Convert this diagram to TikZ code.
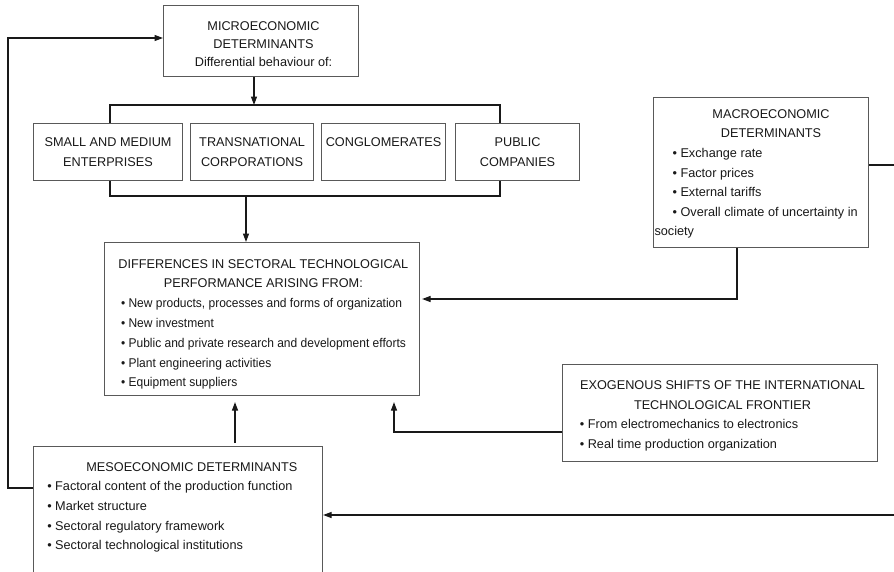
\documentclass[tikz,border=0pt]{standalone}
\usepackage{fontspec}
\setmainfont{Liberation Sans}
\newfontfamily\condfont[FakeStretch=0.945]{Liberation Sans}
\usetikzlibrary{arrows.meta}
\newcommand{\bl}{\textbullet\ }
\newcommand{\ctr}[1]{\leftskip=#1 plus 1fil\rightskip=0pt plus 1fil\parfillskip=0pt\relax}
\newcommand{\lft}[1]{\leftskip=#1\rightskip=0pt plus 1fil\parfillskip=0pt plus 1fil\relax}
\newcommand{\boxtxt}[3]{\parbox[t][#2][t]{#1}{#3}}
\tikzset{
  box/.style={draw=black!65, line width=1.1pt, inner sep=0pt, anchor=north west,
    text=black!90, font=\fontsize{12.7}{19.7}\selectfont},
  conn/.style={draw=black!90, line width=1.2pt},
  arr/.style={conn, -{Triangle[length=8.5pt,width=6pt]}},
}
\begin{document}
\begin{tikzpicture}[x=1pt,y=-1pt]
\clip (0,0) rectangle (894,571);
\fill[white] (0,0) rectangle (894,571);

\node[box] (micro) at (163,5) {\boxtxt{195pt}{71pt}{\baselineskip=18.3pt\ctr{5pt}\rule{0pt}{24.5pt}MICROECONOMIC\par DETERMINANTS\par Differential behaviour of:}};

\node[box] (sme) at (33,123) {\boxtxt{149pt}{57pt}{\ctr{0pt}\rule{0pt}{23.2pt}SMALL AND MEDIUM\par ENTERPRISES}};
\node[box] (tnc) at (190,123) {\boxtxt{123pt}{57pt}{\ctr{0pt}\rule{0pt}{23.2pt}TRANSNATIONAL\par CORPORATIONS}};
\node[box] (cong) at (321,123) {\boxtxt{124pt}{57pt}{\ctr{0pt}\rule{0pt}{23.2pt}CONGLOMERATES}};
\node[box] (pub) at (455,123) {\boxtxt{124pt}{57pt}{\ctr{0pt}\rule{0pt}{23.2pt}PUBLIC\par COMPANIES}};

\node[box] (macro) at (653,97) {\boxtxt{215pt}{150pt}{\baselineskip=19.6pt\ctr{20pt}\rule{0pt}{20.8pt}MACROECONOMIC\par DETERMINANTS\par
  \lft{19pt}\bl Exchange rate\par \bl Factor prices\par \bl External tariffs\par \bl Overall climate of uncertainty in\par \lft{1pt}society}};

\node[box] (diff) at (104,242) {\boxtxt{315pt}{153pt}{\baselineskip=19.8pt\ctr{2.6pt}\rule{0pt}{25.5pt}DIFFERENCES IN SECTORAL TECHNOLOGICAL\par PERFORMANCE ARISING FROM:\par
  \lft{16.5pt}\condfont\bl New products, processes and forms of organization\par \bl New investment\par \bl Public and private research and development efforts\par \bl Plant engineering activities\par \bl Equipment suppliers}};

\node[box] (exo) at (562,364) {\boxtxt{315pt}{97pt}{\ctr{5pt}\rule{0pt}{24.8pt}EXOGENOUS SHIFTS OF THE INTERNATIONAL\par TECHNOLOGICAL FRONTIER\par
  \lft{17.3pt}\bl From electromechanics to electronics\par \bl Real time production organization}};

\node[box] (meso) at (33,446) {\boxtxt{289pt}{140pt}{\ctr{27.6pt}\rule{0pt}{24.5pt}MESOECONOMIC DETERMINANTS\par
  \lft{13.7pt}\bl Factoral content of the production function\par \bl Market structure\par \bl Sectoral regulatory framework\par \bl Sectoral technological institutions}};

% bracket
\coordinate (btm) at (254,105);
\coordinate (btl) at (110,105);
\coordinate (btr) at (500,105);
\coordinate (bbl) at (110,196);
\coordinate (bbr) at (500,196);
\coordinate (bbm) at (246,196);
\draw[arr] (btm |- micro.south) -- (btm);
\draw[conn] (btl |- sme.north) -- (btl) -- (btr) -- (btr |- pub.north);
\draw[conn] (bbl |- sme.south) -- (bbl) -- (bbr) -- (bbr |- pub.south);
\draw[arr] (bbm) -- (bbm |- diff.north);

% macro
\coordinate (mc) at (737,299);
\draw[arr, shorten >=2pt] (mc |- macro.south) -- (mc) -- (mc -| diff.east);
\coordinate (mr) at (900,165);
\draw[conn] (macro.east |- mr) -- (mr);

% exo
\coordinate (ex) at (394,432);
\draw[arr, shorten >=6pt] (ex -| exo.west) -- (ex) -- (ex |- diff.south);

% meso
\coordinate (ms) at (235,446);
\draw[arr, shorten <=3pt, shorten >=6pt] (ms |- meso.north) -- (ms |- diff.south);
\coordinate (lb) at (8,488);
\coordinate (lt) at (8,38);
\draw[arr] (lb -| meso.west) -- (lb) -- (lt) -- (lt -| micro.west);
\coordinate (br) at (900,515);
\draw[arr] (br) -- (br -| meso.east);
\end{tikzpicture}
\end{document}
